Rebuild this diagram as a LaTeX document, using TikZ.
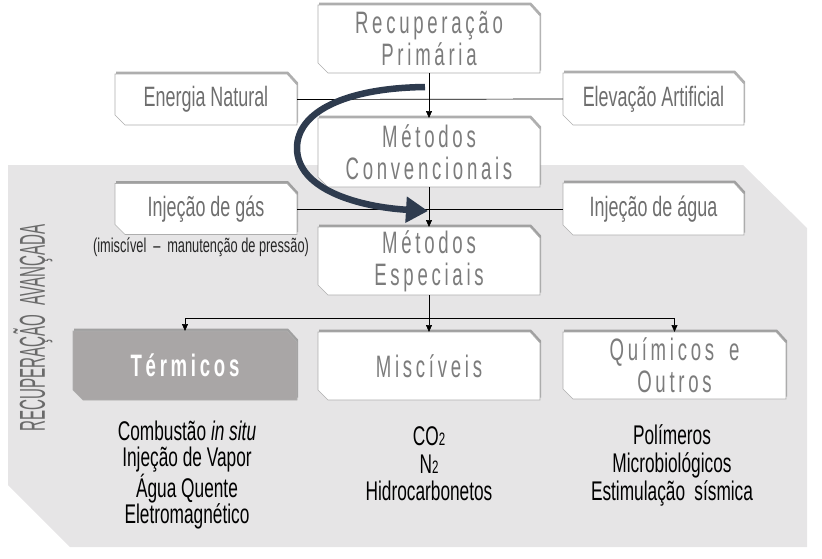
\documentclass[tikz,border=0pt]{standalone}
\usepackage{fontspec}
\setmainfont{Liberation Sans}
\newfontfamily\ttlfont[FakeStretch=0.6,LetterSpace=12]{Liberation Sans}
\newfontfamily\bodfont[FakeStretch=0.64]{Liberation Sans}
\newfontfamily\vertfont[FakeStretch=0.42]{Liberation Sans}
\usetikzlibrary{shadows,arrows.meta}
\definecolor{panel}{HTML}{E6E5E6}
\definecolor{boxline}{HTML}{AEAEAE}
\definecolor{ttlgray}{HTML}{7C7C7C}
\definecolor{lblgray}{HTML}{6E6E6E}
\definecolor{vgray}{HTML}{6A6A6A}
\definecolor{termfill}{HTML}{A9A6A6}
\definecolor{curvecol}{HTML}{2E3B4E}
\pgfdeclarelayer{bg}
\pgfdeclarelayer{boxes}
\pgfsetlayers{bg,boxes,main}
\newcommand\bevelshape[2]{%
  \begin{pgfonlayer}{boxes}
  \path[draw=boxline, line width=0.6pt, fill=#2,
        drop shadow={shadow xshift=1pt,shadow yshift=2.5pt,fill=black!70,opacity=0.45}]
   (#1.north west) -- ([xshift=-10pt]#1.north east) -- ([yshift=-11pt]#1.north east)
   -- (#1.south east) -- ([xshift=10pt]#1.south west) -- ([yshift=10pt]#1.south west) -- cycle;
  \end{pgfonlayer}}
\tikzset{
  boxn/.style={rectangle, draw=none, inner sep=0pt, outer sep=0pt, align=center},
  ttl/.style={font=\ttlfont\fontsize{31}{32}\selectfont, text=ttlgray},
  lbl/.style={font=\bodfont\fontsize{28}{30}\selectfont, text=lblgray},
  listtxt/.style={align=center, font=\bodfont\fontsize{27}{26.7}\selectfont, text=black, inner sep=0pt},
  conn/.style={line width=0.7pt, draw=black},
  arr/.style={conn, -{Triangle[length=7pt,width=6pt]}},
}
\begin{document}
\begin{tikzpicture}[x=1pt,y=-1pt]
\useasboundingbox (0,0) rectangle (822,558);
\begin{pgfonlayer}{bg}
\fill[panel] (8,165) -- (743,165) -- (807,228) -- (807,547) -- (70,547) -- (8,485) -- cycle;
\end{pgfonlayer}

% boxes
\node[boxn, ttl, minimum width=222pt, minimum height=68pt] (prim) at (429,39) {Recuperação\\Primária};
\node[boxn, ttl, minimum width=222pt, minimum height=69pt] (conv) at (429,152.5) {Métodos\\Convencionais};
\node[boxn, ttl, minimum width=222pt, minimum height=68pt] (esp) at (429,261) {Métodos\\Especiais};
\node[boxn, lbl, minimum width=182pt, minimum height=51pt] (ener) at (206,99.5) {Energia Natural};
\node[boxn, lbl, minimum width=181pt, minimum height=52pt] (elev) at (653.5,99) {Elevação Artificial};
\node[boxn, lbl, minimum width=182pt, minimum height=51pt] (gas) at (206,209) {Injeção de gás};
\node[boxn, lbl, minimum width=181pt, minimum height=52pt] (agua) at (653.5,209) {Injeção de água};
\node[boxn, minimum width=224pt, minimum height=69pt, text=white,
      font=\ttlfont\bfseries\fontsize{31}{32}\selectfont] (term) at (185,365.5) {Térmicos};
\node[boxn, ttl, minimum width=222pt, minimum height=68pt] (misc) at (429,366) {Miscíveis};
\node[boxn, ttl, minimum width=223pt, minimum height=67pt] (quim) at (674.5,365.5) {Químicos\hspace{6pt} e\\Outros};

\bevelshape{prim}{white}
\bevelshape{conv}{white}
\bevelshape{esp}{white}
\bevelshape{ener}{white}
\bevelshape{elev}{white}
\bevelshape{gas}{white}
\bevelshape{agua}{white}
\bevelshape{term}{termfill}
\bevelshape{misc}{white}
\bevelshape{quim}{white}

% texts
\node[font=\bodfont\fontsize{20}{22}\selectfont, text=black!85, inner sep=0pt] (note) at (201,247) {(imiscível \,–\, manutenção de pressão)};
\node[rotate=90, font=\vertfont\fontsize{36}{36}\selectfont, text=vgray, inner sep=0pt] (vert) at (33,328) {RECUPERAÇÃO\hspace{5pt} AVANÇADA};
\node[listtxt] (tlist) at (187,475) {Combustão \textit{in situ}\\Injeção de Vapor\\Água Quente\\Eletromagnético};
\node[listtxt, font=\bodfont\fontsize{27}{27.5}\selectfont] (mlist) at (429,464) {CO{\fontsize{18}{18}\selectfont 2}\\N{\fontsize{18}{18}\selectfont 2}\\Hidrocarbonetos};
\node[listtxt, font=\bodfont\fontsize{27}{28}\selectfont] (qlist) at (672,465) {Polímeros\\Microbiológicos\\Estimulação \,sísmica};

% connectors
\draw[conn] (ener.east) -- (elev.west);
\draw[arr] (prim.south) -- (conv.north);
\draw[conn] (gas.east) -- (agua.west);
\draw[arr] (conv.south) -- (esp.north);
\coordinate (hb) at (429,318);
\draw[conn] (esp.south) -- (hb);
\draw[arr] (hb) -- (misc.north);
\draw[arr] (hb) -| (term.north);
\draw[arr] (hb) -| (quim.north);

% curved arrow
\draw[curvecol, line width=6.5pt, -{Triangle[length=22pt,width=25pt]}]
  (425,87) .. controls (345,88) and (297,112) .. (297,148)
  .. controls (297,190) and (360,207) .. (428,211);
\end{tikzpicture}
\end{document}
